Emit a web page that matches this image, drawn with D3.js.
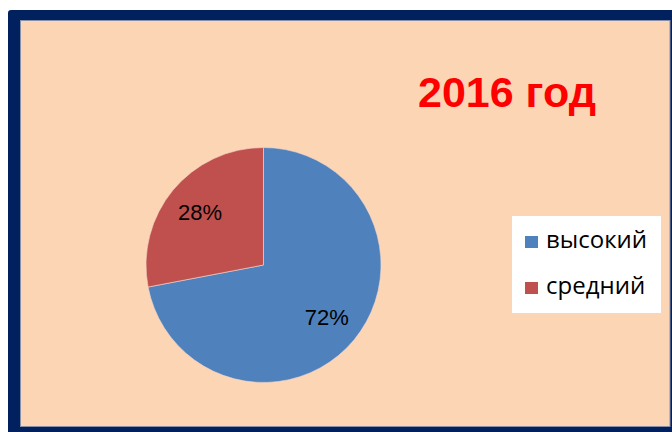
<!DOCTYPE html>
<html><head><meta charset="utf-8">
<script src="https://cdn.jsdelivr.net/npm/d3@7"></script>
<style>html,body{margin:0;padding:0;background:#fff;}svg{display:block;}</style>
</head><body>
<script>
const categories = ["высокий", "средний"];
const values = [72, 28];
const labels = ["72%", "28%"];
const title = "2016 год";
const colors = ["#4F81BD", "#C0504D"];

const W = 672, H = 432;
const svg = d3.select("body").append("svg").attr("width", W).attr("height", H);

// frame
svg.append("rect").attr("x", 8).attr("y", 10).attr("width", 680).attr("height", 440)
  .attr("rx", 3).attr("fill", "#00205E");
svg.append("rect").attr("x", 20.5).attr("y", 20.5).attr("width", 649.5).attr("height", 406)
  .attr("fill", "#FCD5B4").attr("stroke", "#8a8fa8").attr("stroke-width", 1);

// title
svg.append("text").attr("x", 507).attr("y", 107).attr("text-anchor", "middle")
  .attr("font-family", "Liberation Sans, Arial, sans-serif").attr("font-weight", "bold")
  .attr("font-size", 43).attr("fill", "#FF0000").text(title);

// pie
const cx = 263.5, cy = 265, r = 117.5;
const pie = d3.pie().sort(null).value(d => d)(values);
const arc = d3.arc().innerRadius(0).outerRadius(r);
const g = svg.append("g").attr("transform", `translate(${cx},${cy})`);
g.selectAll("path").data(pie).join("path")
  .attr("d", arc).attr("fill", (d, i) => colors[i])
  .attr("stroke", "#f3d8cc").attr("stroke-width", 0.6);

const lblArc = d3.arc().innerRadius(r * 0.7).outerRadius(r * 0.7);
g.selectAll("text.lbl").data(pie).join("text").attr("class", "lbl")
  .attr("x", d => lblArc.centroid(d)[0])
  .attr("y", d => lblArc.centroid(d)[1])
  .attr("text-anchor", "middle").attr("dy", "0.35em")
  .attr("font-family", "Liberation Sans, Arial, sans-serif").attr("font-size", 22)
  .attr("fill", "#000").text((d, i) => labels[i]);

// legend
const lg = svg.append("g");
lg.append("rect").attr("x", 512).attr("y", 216).attr("width", 149).attr("height", 97).attr("fill", "#fff");
const items = lg.selectAll("g.item").data(categories).join("g").attr("class", "item")
  .attr("transform", (d, i) => `translate(525,${236 + i * 46})`);
items.append("rect").attr("width", 13).attr("height", 12).attr("fill", (d, i) => colors[i]);
items.append("text").attr("x", 21).attr("y", 12)
  .attr("font-family", "Open Sans, sans-serif").attr("font-size", 24)
  .attr("fill", "#000").text(d => d);
</script>
</body></html>
